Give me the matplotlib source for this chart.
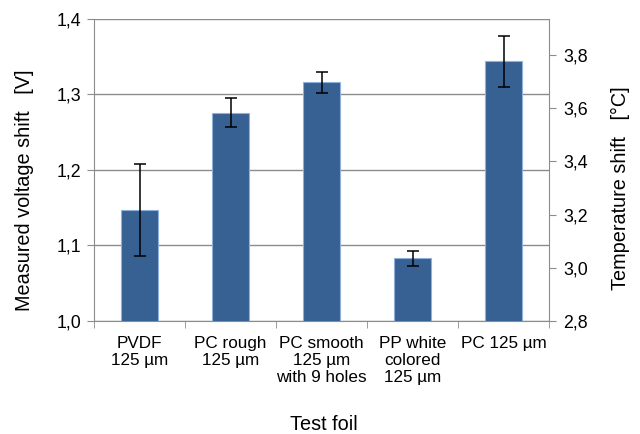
import numpy as np
import matplotlib.pyplot as plt
from matplotlib.ticker import FuncFormatter, FixedLocator

plt.rcParams.update({
    "font.family": ["Liberation Sans", "DejaVu Sans"],
    "font.size": 12,
})

# Data
categories = ["PVDF\n125 µm", "PC rough\n125 µm", "PC smooth\n125 µm\nwith 9 holes",
              "PP white\ncolored\n125 µm", "PC 125 µm"]
voltage_shift = [1.147, 1.276, 1.316, 1.083, 1.344]
voltage_err = [0.061, 0.019, 0.0135, 0.010, 0.034]

bar_color = "#386193"
edge_color = "#8fb0db"
grid_color = "#8c8c8c"

comma = FuncFormatter(lambda v, p: f"{v:.1f}".replace(".", ","))

fig = plt.figure(figsize=(6.4, 4.34), dpi=100)
ax = fig.add_axes([94 / 640, 1 - 321 / 434, 455 / 640, 302 / 434])

x = np.arange(len(categories))
ax.bar(x, voltage_shift, width=0.41, color=bar_color, edgecolor=edge_color,
       linewidth=0.8, zorder=3)
ax.errorbar(x, voltage_shift, yerr=voltage_err, fmt="none", ecolor="black",
            elinewidth=1.1, capsize=4, capthick=1.1, zorder=4)

ax.set_xlim(-0.5, len(categories) - 0.5)
ax.set_ylim(1.0, 1.4)
ax.set_yticks([1.0, 1.1, 1.2, 1.3, 1.4])
ax.yaxis.set_major_formatter(comma)
ax.yaxis.grid(True, color=grid_color, linewidth=1.0, zorder=0)
ax.set_axisbelow(True)

# category labels centered, ticks on the boundaries
ax.set_xticks(x)
ax.set_xticklabels(categories, linespacing=1.2, va="top", fontsize=12.3)
ax.tick_params(axis="x", length=0, pad=10.5)
ax.xaxis.set_minor_locator(FixedLocator(np.arange(-0.5, len(categories), 1.0)))
ax.tick_params(axis="x", which="minor", length=5, color=grid_color)
ax.tick_params(axis="y", length=5, color=grid_color, pad=4, labelsize=12.8)

for side in ["left", "bottom", "right"]:
    ax.spines[side].set_color(grid_color)
ax.spines["top"].set_visible(False)

ax2 = ax.twinx()
ax2.set_ylim(2.8, 3.935)
ax2.set_yticks([2.8, 3.0, 3.2, 3.4, 3.6, 3.8])
ax2.yaxis.set_major_formatter(comma)
ax2.tick_params(axis="y", length=5, color=grid_color, pad=5, labelsize=12.8)
for side in ["left", "bottom", "right", "top"]:
    ax2.spines[side].set_visible(False)

# axis titles
fig.text(25 / 640, 1 - 190 / 434, "Measured voltage shift   [V]", rotation=90,
         ha="center", va="center", fontsize=14.3)
fig.text(620 / 640, 1 - 188 / 434, "Temperature shift   [°C]", rotation=90,
         ha="center", va="center", fontsize=14.3)
fig.text(324 / 640, 1 - 424 / 434, "Test foil", ha="center", va="center",
         fontsize=14.3)

fig.savefig("out.png", dpi=100)
